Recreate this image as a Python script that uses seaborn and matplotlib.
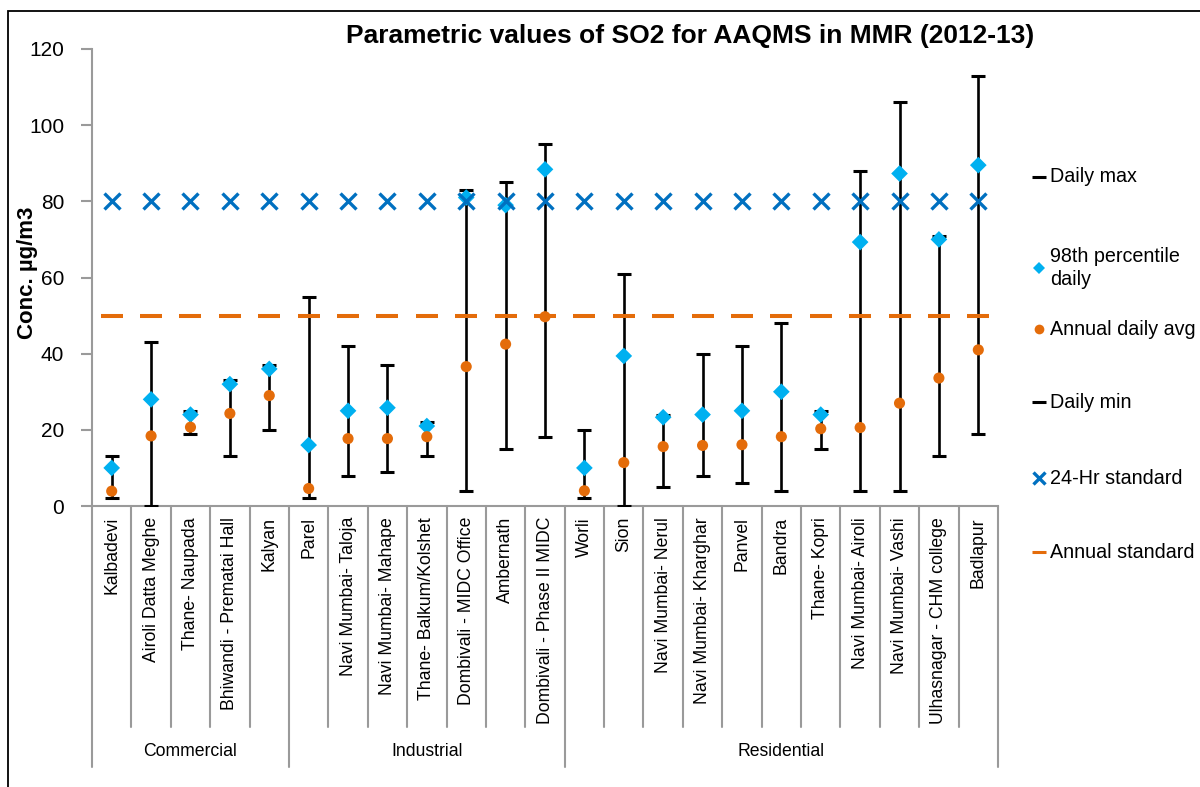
import numpy as np
import pandas as pd
import matplotlib.pyplot as plt
import seaborn as sns
from matplotlib.lines import Line2D
from matplotlib.patches import Rectangle

# data (SO2, ug/m3)
stations = ['Kalbadevi', 'Airoli Datta Meghe', 'Thane- Naupada', 'Bhiwandi - Prematai Hall', 'Kalyan',
            'Parel', 'Navi Mumbai- Taloja', 'Navi Mumbai- Mahape', 'Thane- Balkum/Kolshet',
            'Dombivali - MIDC Office', 'Ambernath', 'Dombivali - Phase II MIDC',
            'Worli', 'Sion', 'Navi Mumbai- Nerul', 'Navi Mumbai- Kharghar', 'Panvel', 'Bandra',
            'Thane- Kopri', 'Navi Mumbai- Airoli', 'Navi Mumbai- Vashi', 'Ulhasnagar - CHM college', 'Badlapur']
groups = ['Commercial', 'Industrial', 'Residential']
group_sizes = [5, 7, 11]
daily_max = [13, 43, 25, 33, 37, 55, 42, 37, 22, 83, 85, 95, 20, 61, 24, 40, 42, 48, 25, 88, 106, 71, 113]
p98_daily = [10, 28, 24, 32, 36, 16, 25, 25.8, 21, 81, 79, 88.4, 10, 39.4, 23.3, 24, 25, 30, 24, 69.3, 87.3, 70, 89.5]
annual_avg = [3.9, 18.4, 20.7, 24.3, 29, 4.6, 17.7, 17.7, 18.2, 36.6, 42.5, 49.7, 4, 11.4, 15.6, 15.9, 16.1, 18.2,
              20.3, 20.6, 27, 33.6, 41]
daily_min = [2, 0, 19, 13, 20, 2, 8, 9, 13, 4, 15, 18, 2, 0, 5, 8, 6, 4, 15, 4, 4, 13, 19]
std_24hr = [80] * len(stations)
std_annual = [50] * len(stations)

BLUE = '#0070C0'
CYAN = '#00B0F0'
ORANGE = '#E46C0A'
GRAY = '#9a9a9a'

df = pd.DataFrame({'station': stations, 'pos': np.arange(len(stations)),
                   'dmax': daily_max, 'p98': p98_daily, 'avg': annual_avg,
                   'dmin': daily_min, 's24': std_24hr, 'sann': std_annual})

sns.set_theme(style='white', rc={'text.color': 'black', 'xtick.color': 'black', 'ytick.color': 'black',
                                 'axes.labelcolor': 'black'})
plt.rcParams['font.family'] = ['Liberation Sans', 'DejaVu Sans']

W, H = 1200, 787
fig = plt.figure(figsize=(12, 7.87), dpi=100)
ax = fig.add_axes([92 / W, 1 - 506 / H, (998 - 92) / W, (506 - 49) / H])

# high-low lines
ax.vlines(df['pos'], df['dmin'], df['dmax'], color='black', lw=1.9, zorder=2)
sns.scatterplot(data=df, x='pos', y='dmax', marker='_', s=10 ** 2, color='black', linewidth=2.2, ax=ax, zorder=3)
sns.scatterplot(data=df, x='pos', y='p98', marker='D', s=8.5 ** 2, color=CYAN, edgecolor='none', ax=ax, zorder=3)
sns.scatterplot(data=df, x='pos', y='avg', marker='o', s=8 ** 2, color=ORANGE, edgecolor='none', ax=ax, zorder=3)
sns.scatterplot(data=df, x='pos', y='dmin', marker='_', s=10 ** 2, color='black', linewidth=2.2, ax=ax, zorder=3)
sns.scatterplot(data=df, x='pos', y='s24', marker='x', s=11.5 ** 2, color=BLUE, linewidth=2.4, ax=ax, zorder=4)
sns.scatterplot(data=df, x='pos', y='sann', marker='_', s=16 ** 2, color=ORANGE, linewidth=2.9, ax=ax, zorder=4)

ax.set_xlim(-0.5, len(stations) - 0.5)
ax.set_ylim(0, 120)
ax.set_yticks(range(0, 121, 20))
ax.set_xticks(df['pos'])
ax.set_xticklabels(stations, rotation=90, va='top', ha='center', fontsize=12.7)
ax.set_xlabel('')
ax.set_ylabel('')
ax.tick_params(axis='y', length=8, width=1.5, color=GRAY, labelcolor='black', labelsize=15, pad=12, left=True)
ax.tick_params(axis='x', length=0, pad=8, labelcolor='black')
for s in ['top', 'right']:
    ax.spines[s].set_visible(False)
for s in ['left', 'bottom']:
    ax.spines[s].set_color(GRAY)
    ax.spines[s].set_linewidth(1.5)

# category separators and group labels below the axis
trans = ax.get_xaxis_transform()
bounds = np.cumsum([0] + group_sizes) - 0.5
for b in np.arange(0.5, len(stations) - 1, 1):
    if b not in bounds:
        ax.plot([b, b], [0, -0.484], transform=trans, clip_on=False, color=GRAY, lw=1.5)
for b in bounds:
    ax.plot([b, b], [0, -0.571], transform=trans, clip_on=False, color=GRAY, lw=1.5)
for g, lo, hi in zip(groups, bounds[:-1], bounds[1:]):
    ax.text((lo + hi) / 2, -0.538, g, transform=trans, ha='center', va='center', fontsize=12.7, color='black')

fig.text(690 / W, 1 - 36 / H, 'Parametric values of SO2 for AAQMS in MMR (2012-13)',
         ha='center', va='center', fontsize=19, fontweight='bold', color='black')
fig.text(27 / W, 1 - 273 / H, 'Conc. µg/m3', rotation=90, ha='center', va='center',
         fontsize=16, fontweight='bold', color='black')

# legend, laid out like the original
entries = [('Daily max', dict(marker='_', color='black', markersize=10, markeredgewidth=2.2), 177),
           ('98th percentile\ndaily', dict(marker='D', color=CYAN, markersize=6.5, markeredgewidth=0), 268),
           ('Annual daily avg', dict(marker='o', color=ORANGE, markersize=7, markeredgewidth=0), 329),
           ('Daily min', dict(marker='_', color='black', markersize=10, markeredgewidth=2.2), 402),
           ('24-Hr standard', dict(marker='x', color=BLUE, markersize=9, markeredgewidth=2.4), 478),
           ('Annual standard', dict(marker='_', color=ORANGE, markersize=10, markeredgewidth=2.2), 552)]
for label, kw, yp in entries:
    fig.add_artist(Line2D([1039 / W], [1 - yp / H], transform=fig.transFigure, linestyle='none', **kw))
    fig.text(1050 / W, 1 - yp / H, label, ha='left', va='center', fontsize=14.2, linespacing=1.3, color='black')

fig.add_artist(Rectangle((8 / W, -0.1), 1.2, (H - 11) / H + 0.1, transform=fig.transFigure,
                         fill=False, edgecolor='black', lw=1.3))

fig.savefig('out.png', dpi=100)
